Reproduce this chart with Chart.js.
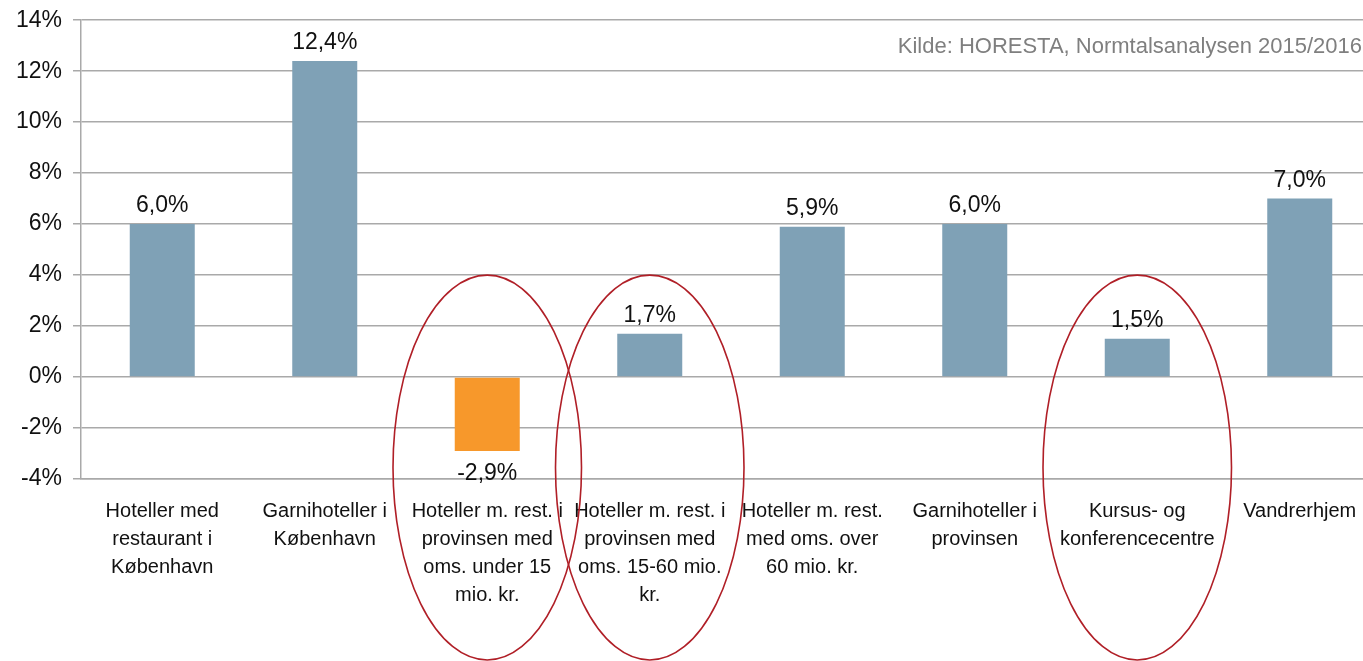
<!DOCTYPE html>
<html>
<head>
<meta charset="utf-8">
<script src="https://cdn.jsdelivr.net/npm/chart.js@4/dist/chart.umd.min.js"></script>
<style>
  html, body { margin: 0; padding: 0; background: #fff; overflow: hidden; }
  #wrap { width: 1390px; height: 661px; }
</style>
</head>
<body>
<div id="wrap"><canvas id="chart" width="1390" height="661"></canvas></div>
<script>
const categories = [
  ["Hoteller med", "restaurant i", "København"],
  ["Garnihoteller i", "København"],
  ["Hoteller m. rest. i", "provinsen med", "oms. under 15", "mio. kr."],
  ["Hoteller m. rest. i", "provinsen med", "oms. 15-60 mio.", "kr."],
  ["Hoteller m. rest.", "med oms. over", "60 mio. kr."],
  ["Garnihoteller i", "provinsen"],
  ["Kursus- og", "konferencecentre"],
  ["Vandrerhjem"]
];
const values = [6.0, 12.4, -2.9, 1.7, 5.9, 6.0, 1.5, 7.0];
const circled = [2, 3, 6];
const source = "Kilde: HORESTA, Normtalsanalysen 2015/2016";

const FONT = "'Liberation Sans', Arial, sans-serif";
const barColors = values.map(v => v < 0 ? "#F7982B" : "#7FA1B6");
const fmt = v => v.toFixed(1).replace(".", ",") + "%";

const valueLabels = {
  id: "valueLabels",
  afterDatasetsDraw(chart) {
    const ctx = chart.ctx;
    const meta = chart.getDatasetMeta(0);
    ctx.save();
    ctx.font = "23px " + FONT;
    ctx.fillStyle = "#111";
    ctx.textAlign = "center";
    meta.data.forEach((bar, i) => {
      const v = values[i];
      if (v >= 0) {
        ctx.textBaseline = "alphabetic";
        ctx.fillText(fmt(v), bar.x, bar.y - 12);
      } else {
        ctx.textBaseline = "top";
        ctx.fillText(fmt(v), bar.x, bar.y + 11);
      }
    });
    ctx.restore();
  }
};

const ellipses = {
  id: "ellipses",
  afterDraw(chart) {
    const ctx = chart.ctx;
    const x = chart.scales.x, y = chart.scales.y;
    const catW = x.getPixelForValue(1) - x.getPixelForValue(0);
    const top = y.getPixelForValue(4);
    const bottom = chart.height - 1;
    ctx.save();
    ctx.strokeStyle = "#B01F27";
    ctx.lineWidth = 1.6;
    circled.forEach(i => {
      const cx = x.getPixelForValue(i);
      ctx.beginPath();
      ctx.ellipse(cx, (top + bottom) / 2, catW * 0.58, (bottom - top) / 2, 0, 0, Math.PI * 2);
      ctx.stroke();
    });
    ctx.fillStyle = "#7F7F7F";
    ctx.font = "22px " + FONT;
    ctx.textAlign = "right";
    ctx.textBaseline = "middle";
    ctx.fillText(source, 1362, 47);
    ctx.restore();
  }
};

new Chart(document.getElementById("chart"), {
  type: "bar",
  data: {
    labels: categories,
    datasets: [{
      data: values,
      backgroundColor: barColors,
      borderWidth: 0,
      barPercentage: 0.4,
      categoryPercentage: 1.0
    }]
  },
  options: {
    responsive: false,
    animation: false,
    layout: { padding: { top: 20, right: 9, left: 0, bottom: 0 } },
    plugins: {
      legend: { display: false },
      tooltip: { enabled: false }
    },
    scales: {
      y: {
        min: -4,
        max: 14,
        ticks: {
          stepSize: 2,
          callback: v => v + "%",
          color: "#111",
          font: { family: FONT, size: 23, lineHeight: 0.8 },
          padding: 11
        },
        grid: { color: "#A9A9A9", lineWidth: 1.5, tickLength: 8 },
        border: { color: "#A9A9A9", width: 1.5 },
        afterFit(scale) { scale.width = 81; }
      },
      x: {
        grid: { display: false },
        border: { color: "#A9A9A9", width: 1.5 },
        ticks: {
          autoSkip: false,
          maxRotation: 0,
          minRotation: 0,
          color: "#111",
          font: { family: FONT, size: 20, lineHeight: 1.4 },
          padding: 10
        },
        afterFit(scale) { scale.height = 182; }
      }
    }
  },
  plugins: [valueLabels, ellipses]
});
</script>
</body>
</html>
